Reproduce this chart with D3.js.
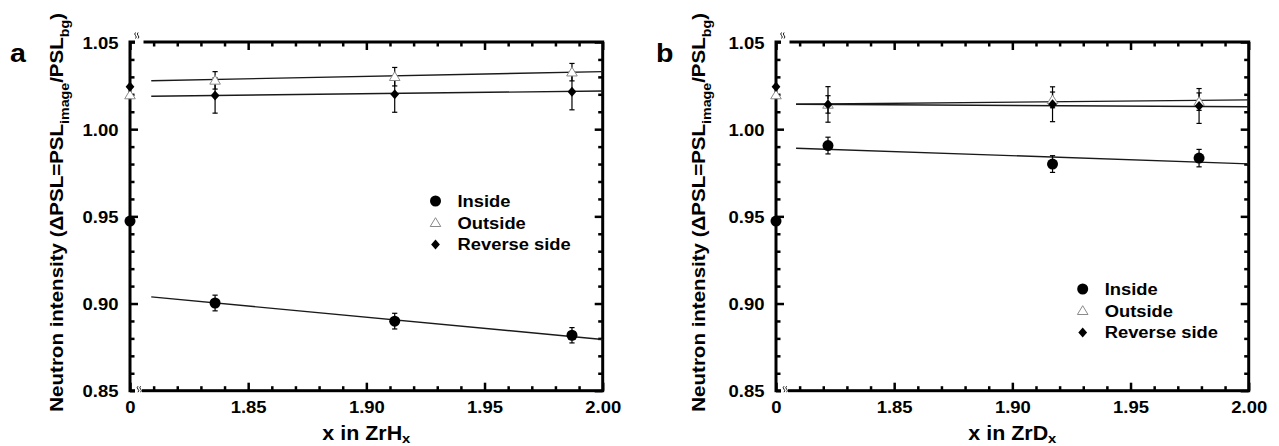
<!DOCTYPE html>
<html>
<head>
<meta charset="utf-8">
<script src="https://cdn.jsdelivr.net/npm/d3@7"></script>
<style>
    body { margin: 0; background: #fff; }
    svg { display: block; }
    text { font-family: 'Liberation Sans', Arial, Helvetica, sans-serif; font-weight: bold; fill: #000; }
</style>
</head>
<body>
<div id="chart"></div>
<script>
// Axis ticks
var xMajor = [0, 1.85, 1.9, 1.95, 2.0];
var xMinor = [1.81, 1.82, 1.83, 1.84, 1.86, 1.87, 1.88, 1.89, 1.91, 1.92, 1.93, 1.94, 1.96, 1.97, 1.98, 1.99];
var yMajor = [0.85, 0.9, 0.95, 1.0, 1.05];
var yMinor = [0.86, 0.87, 0.88, 0.89, 0.91, 0.92, 0.93, 0.94, 0.96, 0.97, 0.98, 0.99, 1.01, 1.02, 1.03, 1.04];
var seriesNames = ['Inside', 'Outside', 'Reverse side'];

// Reference values at x = 0 (inside, outside, reverse side)
var zeroValues = [0.9473, 1.0196, 1.0244];

// Panel a: ZrHx
var xA = [1.836, 1.912, 1.987];
var insideA = [0.9003, 0.8899, 0.8818];
var insideErrA = [0.0045, 0.0045, 0.0044];
var outsideA = [1.028, 1.0301, 1.0327];
var outsideErrA = [0.005, 0.0053, 0.005];
var reverseA = [1.0193, 1.02, 1.0214];
var reverseErrA = [0.0101, 0.0103, 0.0103];
// fitted lines: [x start, y start, x end, y end]
var fitInsideA = [1.809, 0.9038, 2.0, 0.8794];
var fitOutsideA = [1.809, 1.0278, 2.0, 1.033];
var fitReverseA = [1.809, 1.0189, 2.0, 1.0219];

// Panel b: ZrDx
var xB = [1.822, 1.917, 1.979];
var insideB = [0.9906, 0.98, 0.9834];
var insideErrB = [0.0048, 0.0048, 0.005];
var outsideB = [1.0142, 1.0168, 1.0158];
var outsideErrB = [0.005, 0.0045, 0.005];
var reverseB = [1.0142, 1.0143, 1.0133];
var reverseErrB = [0.0102, 0.01, 0.01];
var fitInsideB = [1.8085, 0.9891, 2.0, 0.9801];
var fitOutsideB = [1.8085, 1.0143, 2.0, 1.0168];
var fitReverseB = [1.8085, 1.0143, 2.0, 1.0129];

(function () {
    var panels = [
        {
            label: 'a', left: 130, element: 'H', yLabelX: -67, legend: [305.5, 159],
            x: xA,
            values: [insideA, outsideA, reverseA],
            errors: [insideErrA, outsideErrA, reverseErrA],
            fits: [fitInsideA, fitOutsideA, fitReverseA],
        },
        {
            label: 'b', left: 776, element: 'D', yLabelX: -71, legend: [306.7, 247],
            x: xB,
            values: [insideB, outsideB, reverseB],
            errors: [insideErrB, outsideErrB, reverseErrB],
            fits: [fitInsideB, fitOutsideB, fitReverseB],
        },
    ];

    var marginTop = 42,
        width = 472.7,
        height = 348.7;

    var svg = d3.select('#chart').append('svg').attr('width', 1279).attr('height', 446);

    // Marker shapes: circle, open triangle, diamond
    function drawMarker(sel, type) {
        if (type === 0) {
            sel.append('circle').attr('r', 5.5).attr('fill', '#000');
        } else if (type === 1) {
            sel.append('path').attr('d', 'M0,-5 L5.3,3.8 L-5.3,3.8 Z')
                .attr('fill', '#fff').attr('stroke', '#8a8a8a').attr('stroke-width', 1);
        } else {
            sel.append('path').attr('d', 'M0,-5 L4.4,0 L0,5 L-4.4,0 Z').attr('fill', '#000');
        }
    }

    function drawPanel(p) {
        var g = svg.append('g').attr('transform', 'translate(' + p.left + ',' + marginTop + ')');

        // Broken x axis: everything from 0 to 1.80 collapses onto the left edge
        var x = d3.scaleLinear().domain([0, 1.8, 2.0]).range([0, 0, width]);
        var y = d3.scaleLinear().domain([0.85, 1.05]).range([height, 0]);

        // Frame
        g.append('rect')
            .attr('width', width)
            .attr('height', height)
            .attr('fill', 'none')
            .attr('stroke', '#000')
            .attr('stroke-width', 3);

        function addAxis(axis, tx, ty) {
            var a = g.append('g').attr('transform', 'translate(' + tx + ',' + ty + ')').call(axis);
            a.select('.domain').remove();
            a.selectAll('line').attr('stroke-width', 2.5);
            return a;
        }
        var fmt = function (d) {
            return d === 0 ? '0' : d3.format('.2f')(d);
        };

        // X Axis (bottom with labels, top mirrored)
        var xAxis = addAxis(d3.axisBottom(x).tickValues(xMajor).tickSize(-8).tickFormat(fmt), 0, height);
        addAxis(d3.axisBottom(x).tickValues(xMinor).tickSize(-4.5).tickFormat(''), 0, height);
        addAxis(d3.axisTop(x).tickValues(xMajor).tickSize(-8).tickFormat(''), 0, 0);
        addAxis(d3.axisTop(x).tickValues(xMinor).tickSize(-4.5).tickFormat(''), 0, 0);
        xAxis.selectAll('text')
            .attr('y', null)
            .attr('dy', null)
            .attr('transform', 'translate(0,22.6) scale(1.12,1)')
            .style('font-size', '16.5px');

        // Y Axis (left with labels, right mirrored)
        var yAxis = addAxis(d3.axisLeft(y).tickValues(yMajor).tickSize(-8).tickFormat(d3.format('.2f')), 0, 0);
        addAxis(d3.axisLeft(y).tickValues(yMinor).tickSize(-4.5).tickFormat(''), 0, 0);
        addAxis(d3.axisRight(y).tickValues(yMajor).tickSize(-8).tickFormat(''), width, 0);
        addAxis(d3.axisRight(y).tickValues(yMinor).tickSize(-4.5).tickFormat(''), width, 0);
        yAxis.selectAll('text')
            .attr('x', null)
            .attr('dy', null)
            .attr('transform', 'translate(-11.5,6.2) scale(1.12,1)')
            .style('font-size', '16.5px');

        // Axis break marks
        g.append('rect').attr('x', 5).attr('y', -3).attr('width', 8.5).attr('height', 6).attr('fill', '#fff');
        g.append('rect').attr('x', 5).attr('y', height - 3).attr('width', 7).attr('height', 6).attr('fill', '#fff');
        [[5.5, -6.5], [8, height - 1.5]].forEach(function (pos) {
            [0, 2.6].forEach(function (dx) {
                g.append('path')
                    .attr('d', 'M' + (pos[0] + dx) + ',' + (pos[1] + 3) + ' q1.6,-1.5 0,-3 q-1.6,-1.5 0,-3')
                    .attr('fill', 'none')
                    .attr('stroke', '#000')
                    .attr('stroke-width', 0.9);
            });
        });

        // Fitted lines
        p.fits.forEach(function (f) {
            g.append('line')
                .attr('x1', x(f[0]))
                .attr('y1', y(f[1]))
                .attr('x2', x(f[2]))
                .attr('y2', y(f[3]))
                .attr('stroke', '#1a1a1a')
                .attr('stroke-width', 1.4);
        });

        // Error bars
        p.values.forEach(function (vals, s) {
            vals.forEach(function (v, i) {
                var e = p.errors[s][i];
                var cx = x(p.x[i]);
                var eb = g.append('g').attr('stroke', '#000').attr('stroke-width', 1.2);
                eb.append('line').attr('x1', cx).attr('x2', cx).attr('y1', y(v - e)).attr('y2', y(v + e));
                eb.append('line').attr('x1', cx - 2.6).attr('x2', cx + 2.6).attr('y1', y(v - e)).attr('y2', y(v - e));
                eb.append('line').attr('x1', cx - 2.6).attr('x2', cx + 2.6).attr('y1', y(v + e)).attr('y2', y(v + e));
            });
        });

        // Markers (including the x = 0 reference values)
        p.values.forEach(function (vals, s) {
            g.append('g')
                .selectAll('g')
                .data([zeroValues[s]].concat(vals))
                .enter()
                .append('g')
                .attr('transform', function (d, i) {
                    var xv = i === 0 ? 0 : p.x[i - 1];
                    return 'translate(' + x(xv) + ',' + y(d) + ')';
                })
                .each(function () {
                    drawMarker(d3.select(this), s);
                });
        });

        // Legend
        var legend = g.append('g').attr('transform', 'translate(' + p.legend[0] + ',' + p.legend[1] + ')');
        seriesNames.forEach(function (name, i) {
            var row = legend.append('g').attr('transform', 'translate(0,' + i * 21.7 + ')');
            drawMarker(row, i);
            row.append('text')
                .attr('transform', 'translate(22,6) scale(1.08,1)')
                .style('font-size', '17px')
                .text(name);
        });

        // X Axis Label
        var xl = g.append('text')
            .attr('transform', 'translate(' + width / 2 + ',397.5) scale(1.1,1)')
            .attr('text-anchor', 'middle')
            .style('font-size', '19.5px');
        xl.append('tspan').text('x in Zr' + p.element);
        xl.append('tspan').attr('dy', 3.5).style('font-size', '13.5px').text('x');

        // Y Axis Label
        var yl = g.append('text')
            .attr('transform', 'translate(' + p.yLabelX + ',' + (height / 2 - 4) + ') rotate(-90) scale(1.14,1)')
            .attr('text-anchor', 'middle')
            .style('font-size', '18px');
        yl.append('tspan').text('Neutron intensity (\u0394PSL=PSL');
        yl.append('tspan').attr('dy', 6).style('font-size', '12.5px').text('image');
        yl.append('tspan').attr('dy', -6).text('/PSL');
        yl.append('tspan').attr('dy', 6).style('font-size', '12.5px').text('bg');
        yl.append('tspan').attr('dy', -6).text(')');

        // Panel letter
        svg.append('text')
            .attr('transform', 'translate(' + (p.left - 120) + ',61.7) scale(1.1,1)')
            .style('font-size', '26px')
            .text(p.label);
    }

    panels.forEach(drawPanel);
})();
</script>
</body>
</html>
